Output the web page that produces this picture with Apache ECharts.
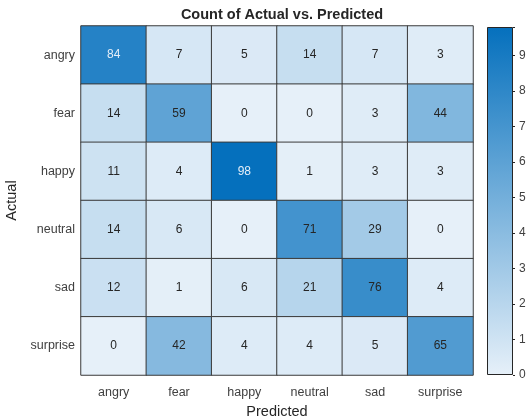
<!DOCTYPE html>
<html>
<head>
<meta charset="utf-8">
<style>
  html, body { margin: 0; padding: 0; background: #ffffff; }
  #chart { width: 526px; height: 419px; }
</style>
<script src="https://cdn.jsdelivr.net/npm/echarts@6/dist/echarts.min.js"></script>
</head>
<body>
<div id="chart"></div>
<script>
// Class labels (rows = actual, columns = predicted)
const predictedLabels = ['angry', 'fear', 'happy', 'neutral', 'sad', 'surprise'];
const actualLabels = ['angry', 'fear', 'happy', 'neutral', 'sad', 'surprise'];

// Counts per actual class, in predicted-label order
const rowAngry    = [84, 7, 5, 14, 7, 3];
const rowFear     = [14, 59, 0, 0, 3, 44];
const rowHappy    = [11, 4, 98, 1, 3, 3];
const rowNeutral  = [14, 6, 0, 71, 29, 0];
const rowSad      = [12, 1, 6, 21, 76, 4];
const rowSurprise = [0, 42, 4, 4, 5, 65];

// Colour bar tick labels
const colorbarTicks = ['0', '10', '20', '30', '40', '50', '60', '70', '80', '90'];

const rows = [rowAngry, rowFear, rowHappy, rowNeutral, rowSad, rowSurprise];
const allValues = rows.flat();
const cMin = 0;
const cMax = Math.max(...allValues);

const lowColor = '#e6f0f9';
const highColor = '#0570bd';
const textFont = '"Liberation Sans", Arial, Helvetica, sans-serif';

const cells = [];
rows.forEach((row, r) => {
  row.forEach((v, c) => {
    cells.push({
      value: [c, r, v],
      label: { color: v >= 80 ? '#e4eef8' : '#262626' }
    });
  });
});

const chart = echarts.init(document.getElementById('chart'), null, { renderer: 'canvas' });

chart.setOption({
  backgroundColor: '#ffffff',
  animation: false,
  title: {
    text: 'Count of Actual vs. Predicted',
    left: 277,
    textAlign: 'center',
    top: 2,
    textStyle: { fontFamily: textFont, fontSize: 14.5, fontWeight: 'bold', color: '#262626' }
  },
  grid: [
    { left: 81, top: 26, width: 392, height: 349, containLabel: false, outerBoundsMode: 'none' },
    { left: 487, top: 27, width: 26, height: 348, containLabel: false, outerBoundsMode: 'none' }
  ],
  xAxis: [
    {
      type: 'category',
      gridIndex: 0,
      data: predictedLabels,
      position: 'bottom',
      name: 'Predicted',
      nameLocation: 'middle',
      nameGap: 29,
      nameTextStyle: { fontFamily: textFont, fontSize: 14.5, color: '#262626' },
      axisLine: { show: false },
      axisTick: { show: false },
      splitLine: { show: false },
      axisLabel: { fontFamily: textFont, fontSize: 12.5, color: '#404040', margin: 11 }
    },
    {
      type: 'category',
      gridIndex: 1,
      data: ['c'],
      show: false
    }
  ],
  yAxis: [
    {
      type: 'category',
      gridIndex: 0,
      data: actualLabels,
      inverse: true,
      name: 'Actual',
      nameLocation: 'middle',
      nameGap: 58,
      nameRotate: 90,
      nameTextStyle: { fontFamily: textFont, fontSize: 14.5, color: '#262626' },
      axisLine: { show: false },
      axisTick: { show: false },
      splitLine: { show: false },
      axisLabel: { fontFamily: textFont, fontSize: 12.5, color: '#404040', margin: 6 }
    },
    {
      type: 'value',
      gridIndex: 1,
      position: 'right',
      min: cMin,
      max: cMax,
      interval: 10,
      axisLine: { show: false },
      axisTick: { show: true, inside: false, length: 2, lineStyle: { color: '#262626' } },
      splitLine: { show: false },
      axisLabel: {
        fontFamily: textFont, fontSize: 12, color: '#404040', margin: 6,
        formatter: (v) => colorbarTicks[Math.round(v / 10)] ?? ''
      }
    }
  ],
  visualMap: {
    show: false,
    type: 'continuous',
    min: cMin,
    max: cMax,
    dimension: 2,
    seriesIndex: 0,
    inRange: { color: [lowColor, highColor] }
  },
  series: [
    {
      type: 'heatmap',
      xAxisIndex: 0,
      yAxisIndex: 0,
      data: cells,
      label: {
        show: true,
        fontFamily: textFont,
        fontSize: 12,
        formatter: (p) => String(p.value[2])
      },
      itemStyle: { borderColor: '#3a3a3a', borderWidth: 1 },
      emphasis: { disabled: true }
    },
    {
      // colour bar: one bar spanning the full range, filled with the colour ramp
      type: 'bar',
      xAxisIndex: 1,
      yAxisIndex: 1,
      data: [cMax],
      barWidth: '100%',
      silent: true,
      itemStyle: {
        borderColor: '#262626',
        borderWidth: 1,
        color: new echarts.graphic.LinearGradient(0, 1, 0, 0, [
          { offset: 0, color: lowColor },
          { offset: 1, color: highColor }
        ])
      }
    }
  ]
});
</script>
</body>
</html>
